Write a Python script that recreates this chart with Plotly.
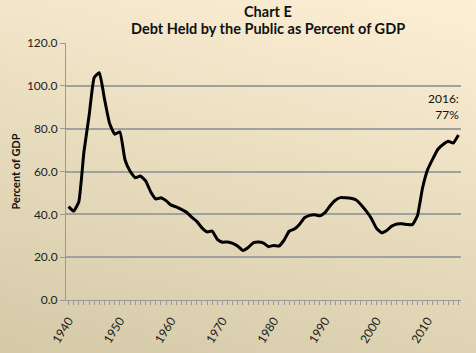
import base64, struct, zlib
import plotly.graph_objects as go

years = list(range(1940, 2017))
debt_pct_gdp = [
    43.6, 41.5, 45.9, 69.2, 86.0, 103.9, 106.1, 93.9, 82.4, 77.4,
    78.5, 65.5, 60.1, 57.1, 57.9, 55.7, 50.6, 47.2, 47.7, 46.4,
    44.3, 43.5, 42.3, 41.0, 38.7, 36.7, 33.7, 31.8, 32.2, 28.3,
    27.0, 27.1, 26.4, 25.1, 23.1, 24.5, 26.7, 27.1, 26.6, 24.9,
    25.5, 25.2, 27.9, 32.1, 33.1, 35.3, 38.4, 39.5, 39.8, 39.3,
    40.8, 44.0, 46.6, 47.8, 47.7, 47.5, 46.8, 44.5, 41.6, 38.2,
    33.6, 31.4, 32.5, 34.5, 35.5, 35.6, 35.3, 35.2, 39.3, 52.3,
    60.9, 65.9, 70.4, 72.6, 74.1, 73.3, 77.0,
]
y_ticks = [0, 20, 40, 60, 80, 100, 120]
x_ticks = list(range(1940, 2011, 10))
title_lines = ["Chart E", "Debt Held by the Public as Percent of GDP"]
note_text = "2016:<br>77%"


def gradient_png(w=64, h=64):
    light = (253, 239, 213)
    dark = (212, 202, 168)
    raw = b""
    for j in range(h):
        row = b"\x00"
        for i in range(w):
            t = 0.75 * (j / (h - 1)) + 0.25 * (1 - i / (w - 1))
            t = max(0.0, min(1.0, t))
            c = [round(light[k] * (1 - t) + dark[k] * t) for k in range(3)]
            row += bytes(c)
        raw += row

    def chunk(tag, data):
        return (struct.pack(">I", len(data)) + tag + data +
                struct.pack(">I", zlib.crc32(tag + data) & 0xffffffff))

    png = b"\x89PNG\r\n\x1a\n"
    png += chunk(b"IHDR", struct.pack(">IIBBBBB", w, h, 8, 2, 0, 0, 0))
    png += chunk(b"IDAT", zlib.compress(raw, 9))
    png += chunk(b"IEND", b"")
    return "data:image/png;base64," + base64.b64encode(png).decode()


FONT = "Lato"
PLOT_H = 257.0

fig = go.Figure()
fig.add_trace(go.Scatter(
    x=years, y=debt_pct_gdp, mode="lines",
    line=dict(color="black", width=3, shape="spline", smoothing=0.4),
    hoverinfo="skip", showlegend=False,
))

fig.update_layout(
    width=476, height=353,
    margin=dict(l=66, r=15, t=43, b=53),
    paper_bgcolor="#ECDFC0",
    plot_bgcolor="white",
    font=dict(family=FONT, size=12, color="#222"),
    images=[dict(
        source=gradient_png(), xref="paper", yref="paper",
        x=-0.17, y=1.17, sizex=1.21, sizey=1.38,
        xanchor="left", yanchor="top", sizing="stretch", layer="below",
    )],
    xaxis=dict(
        range=[1939.5, 2016.5],
        tickvals=x_ticks, ticktext=[str(v) for v in x_ticks],
        tickangle=-58, ticks="outside", ticklen=4, tickcolor="#999",
        ticklabelstandoff=4, automargin=False,
        minor=dict(dtick=1, tick0=1940, ticks="outside", ticklen=4, tickcolor="#999"),
        showline=True, linecolor="#999", linewidth=1,
        showgrid=False, zeroline=False,
        tickfont=dict(family=FONT, size=12, color="#222"),
        fixedrange=True,
    ),
    yaxis=dict(
        range=[0, 120], automargin=False,
        tickvals=y_ticks, ticktext=[f"{v:.1f}" for v in y_ticks],
        ticks="outside", ticklen=5, tickcolor="#999",
        showline=True, linecolor="#999", linewidth=1,
        showgrid=True, gridcolor="#A0A0A0", gridwidth=1.5,
        zeroline=False,
        title=dict(text="<b>Percent of GDP</b>", font=dict(family=FONT, size=11, color="#111"), standoff=4),
        tickfont=dict(family=FONT, size=12, color="#222"),
        fixedrange=True,
    ),
    annotations=[
        dict(
            x=2016.5, y=82, xref="x", yref="y", text=note_text,
            showarrow=False, xanchor="right", yanchor="bottom", align="right",
            font=dict(family=FONT, size=12, color="#111"),
        ),
        dict(
            x=(268 - 66) / 395.0, y=(300 - 11) / PLOT_H, xref="paper", yref="paper",
            text="<b>" + title_lines[0] + "</b>", showarrow=False,
            xanchor="center", yanchor="middle",
            font=dict(family=FONT, size=14.5, color="#111"),
        ),
        dict(
            x=(268 - 66) / 395.0, y=(300 - 29) / PLOT_H, xref="paper", yref="paper",
            text="<b>" + title_lines[1] + "</b>", showarrow=False,
            xanchor="center", yanchor="middle",
            font=dict(family=FONT, size=14.5, color="#111"),
        ),
    ],
)

fig.write_html("out.html")
